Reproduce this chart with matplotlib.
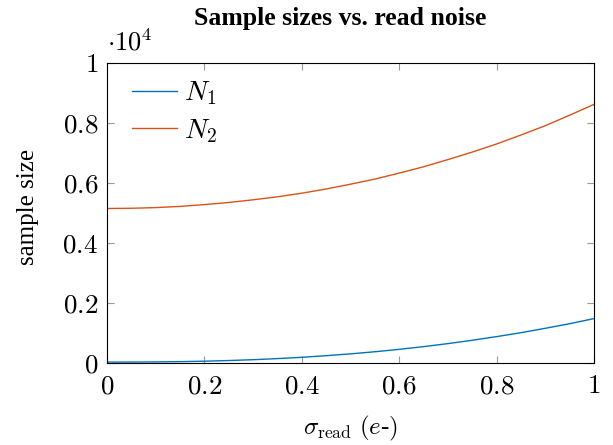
import matplotlib
matplotlib.use('Agg')
import matplotlib.pyplot as plt
from matplotlib.ticker import FuncFormatter

plt.rcParams['font.family'] = 'serif'
plt.rcParams['font.serif'] = ['Liberation Serif', 'DejaVu Serif']
plt.rcParams['mathtext.fontset'] = 'cm'

sigma_read = [0.0, 0.05, 0.1, 0.15, 0.2, 0.25, 0.3, 0.35, 0.4, 0.45, 0.5,
              0.55, 0.6, 0.65, 0.7, 0.75, 0.8, 0.85, 0.9, 0.95, 1.0]
# sample sizes in units of 10^4
n1 = [0.003, 0.0031, 0.0036, 0.0045, 0.006, 0.0082, 0.011, 0.0147, 0.019, 0.0244, 0.0305,
      0.0375, 0.0455, 0.0546, 0.0646, 0.0758, 0.088, 0.101, 0.1157, 0.131, 0.148]
n2 = [0.515, 0.5158, 0.518, 0.522, 0.528, 0.535, 0.544, 0.554, 0.566, 0.580, 0.596,
      0.613, 0.633, 0.654, 0.678, 0.703, 0.730, 0.760, 0.791, 0.826, 0.862]

fig = plt.figure(figsize=(6.13, 4.45), dpi=100)
ax = fig.add_axes([107 / 613, 1 - 363 / 445, 487 / 613, 300 / 445])

ax.plot(sigma_read, n1, color='#0072BD', lw=1.0, label='$N_1$')
ax.plot(sigma_read, n2, color='#D95319', lw=1.0, label='$N_2$')

ax.set_xlim(0, 1)
ax.set_ylim(0, 1)
ax.set_xticks([0, 0.2, 0.4, 0.6, 0.8, 1])
ax.set_yticks([0, 0.2, 0.4, 0.6, 0.8, 1])
fmt = FuncFormatter(lambda v, p: f'${v:g}$')
ax.xaxis.set_major_formatter(fmt)
ax.yaxis.set_major_formatter(fmt)
ax.tick_params(direction='in', top=True, right=True, length=5, color='#999999',
               labelsize=19.5)
ax.tick_params(axis='x', pad=8)
ax.tick_params(axis='y', pad=6.5)
for s in ax.spines.values():
    s.set_linewidth(0.8)

ax.text(0.0, 1.025, r'$\cdot 10^4$', transform=ax.transAxes, fontsize=19,
        ha='left', va='bottom')

ax.set_xlabel(r'$\sigma_{\mathrm{read}}\ (e$-$)$', fontsize=18, va='top')
ax.xaxis.set_label_coords(0.5, -0.17)
ax.set_ylabel('sample size', fontsize=18)
ax.yaxis.set_label_coords(-0.14, 0.52)
fig.text(340 / 613, 1 - 25 / 445, 'Sample sizes vs. read noise', fontsize=18.5,
         fontweight='bold', ha='center', va='baseline')

ax.legend(loc='upper left', frameon=False, fontsize=20, handlelength=1.62,
          handletextpad=0.25, borderaxespad=0.3, labelspacing=0.35,
          bbox_to_anchor=(0.012, 1.01))

fig.savefig('out.png', dpi=100)
